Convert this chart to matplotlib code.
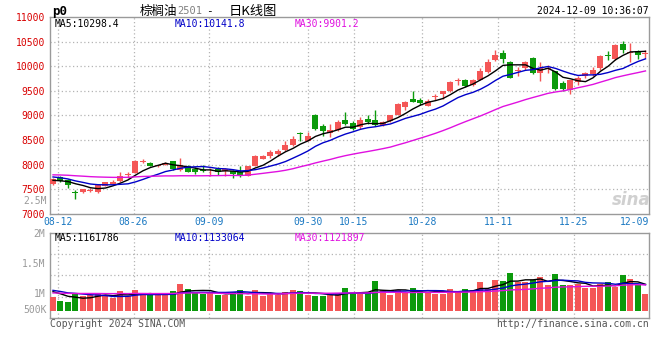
import numpy as np
import pandas as pd
import matplotlib
matplotlib.use('Agg')
import matplotlib.pyplot as plt
import matplotlib.transforms as mtransforms

# K-Linie p2501, 80 Handelstage (08-09 .. 12-09)
opens = [7600, 7750, 7690, 7445, 7432, 7465, 7440, 7565, 7610, 7670,
         7800, 7830, 8050, 8040, 7965, 7990, 8065, 7890, 7965, 7900,
         7880, 7880, 7912, 7865, 7864, 7844, 7776, 7966, 8122, 8170,
         8224, 8292, 8393, 8650, 8488, 9000, 8780, 8644, 8698, 8902,
         8847, 8759, 8935, 8902, 8813, 8881, 9017, 9173, 9342, 9322,
         9200, 9370, 9424, 9492, 9700, 9709, 9614, 9729, 9885, 10122,
         10258, 10088, 9900, 9966, 10170, 9865, 9946, 9898, 9661, 9512,
         9681, 9797, 9844, 9966, 10224, 10149, 10454, 10278, 10305, 10251]
highs = [7735, 7770, 7700, 7480, 7510, 7530, 7600, 7645, 7690, 7850,
         7850, 8085, 8110, 8050, 8000, 8060, 8080, 8135, 7990, 7940,
         7985, 7935, 7953, 7932, 7898, 7980, 7980, 8190, 8190, 8305,
         8325, 8488, 8590, 8664, 8664, 9037, 8814, 8827, 8915, 9064,
         8881, 8969, 8997, 9105, 8880, 9010, 9250, 9290, 9492, 9356,
         9336, 9424, 9505, 9695, 9763, 9749, 9749, 9953, 10136, 10325,
         10339, 10102, 9987, 10102, 10190, 10088, 10014, 9898, 9695, 9729,
         9797, 9878, 9980, 10237, 10305, 10441, 10522, 10475, 10325, 10325]
lows = [7585, 7650, 7530, 7300, 7420, 7440, 7420, 7555, 7600, 7640,
        7716, 7820, 8030, 7960, 7950, 7985, 7890, 7870, 7840, 7800,
        7850, 7760, 7797, 7763, 7729, 7750, 7770, 7960, 8110, 8135,
        8170, 8270, 8373, 8488, 8475, 8712, 8590, 8556, 8678, 8800,
        8698, 8725, 8834, 8780, 8780, 8870, 9000, 9105, 9270, 9220,
        9186, 9322, 9342, 9471, 9627, 9573, 9593, 9709, 9865, 10102,
        10068, 9763, 9797, 9932, 9831, 9695, 9865, 9525, 9505, 9437,
        9627, 9763, 9810, 9932, 10122, 10122, 10271, 10081, 10156, 10170]
closes = [7715, 7670, 7575, 7415, 7495, 7485, 7580, 7635, 7640, 7770,
          7810, 8065, 8080, 7975, 7985, 8030, 7900, 7990, 7855, 7851,
          7860, 7895, 7844, 7912, 7817, 7776, 7966, 8183, 8183, 8250,
          8271, 8407, 8529, 8620, 8576, 8725, 8678, 8698, 8861, 8834,
          8725, 8915, 8861, 8813, 8868, 8997, 9240, 9275, 9275, 9254,
          9288, 9403, 9492, 9675, 9715, 9593, 9709, 9912, 10088, 10224,
          10149, 9763, 9912, 10088, 9865, 9966, 9953, 9546, 9539, 9715,
          9763, 9865, 9932, 10203, 10217, 10427, 10319, 10285, 10224, 10258]
# Volumen in Tausend Lots
volumes = [920, 854, 837, 976, 943, 959, 981, 943, 915, 1026,
           943, 1037, 959, 954, 954, 965, 1020, 1137, 1054, 987,
           981, 1009, 965, 954, 1004, 1048, 948, 1048, 948, 981,
           954, 1004, 1048, 1020, 954, 943, 943, 965, 981, 1081,
           981, 981, 1004, 1187, 1037, 954, 1048, 993, 1081, 1037,
           1004, 981, 981, 1054, 1020, 1054, 1037, 1170, 1065, 1204,
           1187, 1326, 1176, 1170, 1204, 1259, 1120, 1304, 1120, 1120,
           1148, 1081, 1081, 1148, 1170, 1093, 1287, 1220, 1120, 970]
# Werte vor dem sichtbaren Fenster (aus den MA-Linien geschaetzt)
prev_closes = [7760, 7740, 7720, 7750, 7780, 7770, 7760, 7750, 7770, 7775,
               7800, 7830, 7860, 7880, 7900, 7920, 7890, 7870, 7860, 7850,
               7830, 7820, 7810, 7800, 7815, 7720, 7650, 7640, 7670]
prev_volumes = [950, 980, 1010, 940, 960, 990, 1000, 930, 970, 985,
                955, 975, 1005, 945, 960, 990, 965, 980, 950, 1010,
                1040, 1075, 1060, 1050, 1070, 1030, 1045, 1050, 1030]
date_labels = ['08-12', '08-26', '09-09', '09-30', '10-15', '10-28', '11-11', '11-25', '12-09']
date_index = [1, 11, 21, 34, 40, 49, 59, 69, 79]

MONO = 'DejaVu Sans Mono'
CJK = ['Noto Sans CJK SC', 'DejaVu Sans']
RED = '#f45656'
GREEN = '#0c9a0c'
GRID = '#b4b4b4'
FRAME = '#9a9a9a'
MA_COLORS = ['#000000', '#0000c8', '#e010e0']
W, H = 660, 360


def fx(px):
    return px / W


def fy(py):
    return 1 - py / H


def box(left, top, right, bottom):
    return [left / W, 1 - bottom / H, (right - left) / W, (bottom - top) / H]


fig = plt.figure(figsize=(6.6, 3.6), dpi=100)
ax_p = fig.add_axes(box(50, 17, 649, 213.7))
ax_v = fig.add_axes(box(50, 232.6, 649, 318))

o = np.array(opens)
h = np.array(highs)
l = np.array(lows)
c = np.array(closes)
v = np.array(volumes) * 1000.0
x = np.arange(len(c))
colors = np.where(c >= o, RED, GREEN)

n_prev = len(prev_closes)
all_c = pd.Series(prev_closes + closes, dtype=float)
all_v = pd.Series(prev_volumes + volumes, dtype=float) * 1000.0

# Kerzen
body_lo = np.minimum(o, c)
body_h = np.abs(c - o)
flat = body_h < 18
body_lo = np.where(flat, (o + c) / 2 - 9, body_lo)
body_h = np.where(flat, 18, body_h)
ax_p.vlines(x, l, h, colors=colors, lw=1, zorder=3)
ax_p.bar(x, body_h, bottom=body_lo, width=0.8, color=colors, lw=0, zorder=3)
for win, col in zip([5, 10, 30], MA_COLORS):
    ma = all_c.rolling(win).mean().iloc[n_prev:].values
    ax_p.plot(x, ma, color=col, lw=1, zorder=4)

# Volumen
vol_base = 693000
ax_v.bar(x, v - vol_base, bottom=vol_base, width=0.8, color=colors, lw=0, zorder=3)
for win, col in zip([5, 10, 30], MA_COLORS):
    ma = all_v.rolling(win).mean().iloc[n_prev:].values
    ax_v.plot(x, ma, color=col, lw=1, zorder=4)

grid_x = [k * 80 / 79 - 0.4 for k in date_index]
for ax in (ax_p, ax_v):
    ax.set_xlim(-0.4, 79.47)
    for s in ax.spines.values():
        s.set_color(FRAME)
        s.set_linewidth(1.0)
    ax.set_xticks([])
    for gx in grid_x:
        ax.axvline(gx, color=GRID, lw=0.9, ls=(0, (1, 2)), zorder=1)
    ax.tick_params(axis='y', length=0, pad=3.5, labelsize=7)

ax_p.set_ylim(7000, 11000)
price_ticks = list(range(7000, 11001, 500))
ax_p.set_yticks(price_ticks)
ax_p.set_yticklabels([str(t) for t in price_ticks], family=MONO, color='#d80000')
for t in price_ticks[1:-1]:
    ax_p.axhline(t, color=GRID, lw=0.9, ls=(0, (1, 2)), zorder=1)

ax_v.set_ylim(576000, 2000000)
ax_v.set_yticks([1000000, 1500000, 2000000])
ax_v.set_yticklabels(['1M', '1.5M', '2M'], family=MONO, color='#9a9a9a')
for frac in (0.25, 0.5, 0.75):
    ax_v.plot([0, 1], [frac, frac], transform=ax_v.transAxes, color=GRID,
              lw=0.9, ls=(0, (1, 2)), zorder=1)

# Datumsbeschriftung zwischen den Panels
trans = mtransforms.blended_transform_factory(ax_p.transData, fig.transFigure)
for gx, lbl in zip(grid_x, date_labels):
    if gx > 79.47:
        ax_p.text(79.47, fy(222), lbl, transform=trans, ha='right', va='center',
                  family=MONO, size=7, color='#1a78c2')
    else:
        ax_p.text(gx, fy(222), lbl, transform=trans, ha='center', va='center',
                  family=MONO, size=7, color='#1a78c2')

# Kopfzeile
fig.text(fx(52), fy(11), 'p0', family=MONO, weight='bold', size=9, va='center')
fig.text(fx(140), fy(11), '棕榈油', family=CJK, size=9, va='center')
fig.text(fx(177), fy(11.5), '2501', family=MONO, size=7.5, color='#808080', va='center')
fig.text(fx(206), fy(11), '-', family=MONO, size=8, va='center')
fig.text(fx(229), fy(11), '日K线图', family=CJK, size=9.5, va='center')
fig.text(fx(649), fy(11), '2024-12-09 10:36:07', family=MONO, size=7, ha='right', va='center')

fig.text(fx(55), fy(24), 'MA5:10298.4', family=MONO, size=7, color=MA_COLORS[0], va='center')
fig.text(fx(175), fy(24), 'MA10:10141.8', family=MONO, size=7, color=MA_COLORS[1], va='center')
fig.text(fx(295), fy(24), 'MA30:9901.2', family=MONO, size=7, color=MA_COLORS[2], va='center')
fig.text(fx(55), fy(238), 'MA5:1161786', family=MONO, size=7, color=MA_COLORS[0], va='center')
fig.text(fx(175), fy(238), 'MA10:1133064', family=MONO, size=7, color=MA_COLORS[1], va='center')
fig.text(fx(295), fy(238), 'MA30:1121897', family=MONO, size=7, color=MA_COLORS[2], va='center')

fig.text(fx(46.5), fy(201), '2.5M', family=MONO, size=7, color='#9a9a9a', ha='right', va='center')
fig.text(fx(46.5), fy(310), '500K', family=MONO, size=7, color='#9a9a9a', ha='right', va='center')

fig.text(fx(612), fy(200), 'sina', size=12, weight='bold', style='italic',
         color='#d0d0d0', va='center')

fig.text(fx(50), fy(324), 'Copyright 2024 SINA.COM', family=MONO, size=7, color='#555555', va='center')
fig.text(fx(649), fy(324), 'http://finance.sina.com.cn', family=MONO, size=7,
         color='#555555', ha='right', va='center')

fig.savefig('out.png', dpi=100, facecolor='white')
